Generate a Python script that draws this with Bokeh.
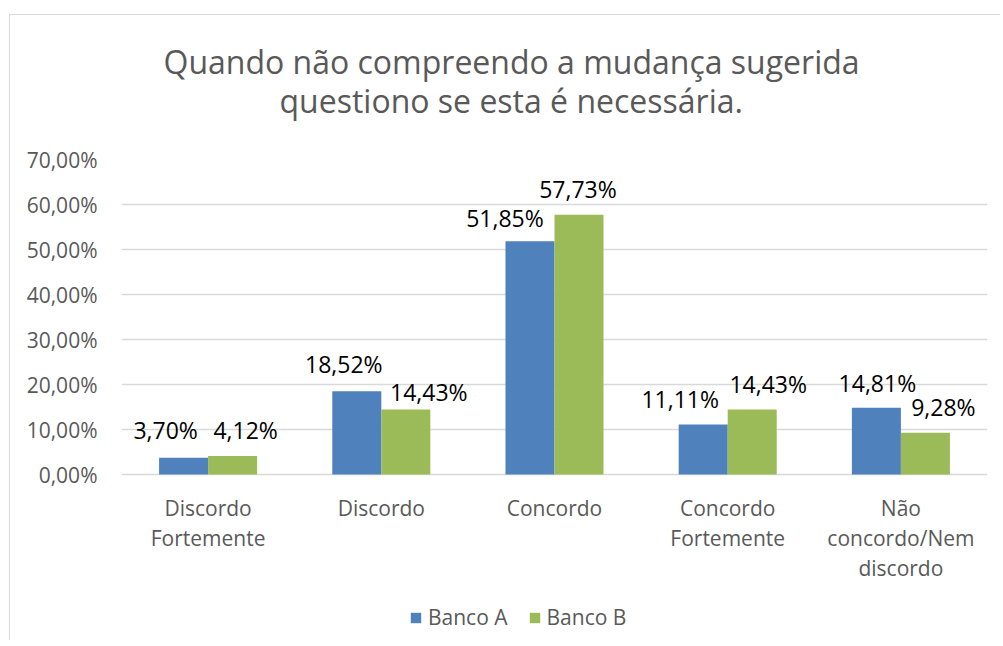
from bokeh.plotting import figure
from bokeh.models import (FactorRange, Range1d, FixedTicker, LabelSet, ColumnDataSource,
                          Title, Legend, LegendItem)
from bokeh.transform import dodge
from bokeh.core.properties import value
from bokeh.embed import file_html
from bokeh.resources import INLINE

# ---- data ----
title_lines = ["Quando não compreendo a mudança sugerida", "questiono se esta é necessária."]
categories = ["Discordo\nFortemente", "Discordo", "Concordo", "Concordo\nFortemente",
              "Não\nconcordo/Nem\ndiscordo"]
series_names = ["Banco A", "Banco B"]
banco_a = [3.70, 18.52, 51.85, 11.11, 14.81]
banco_b = [4.12, 14.43, 57.73, 14.43, 9.28]
y_ticks = [0, 10, 20, 30, 40, 50, 60, 70]
y_tick_labels = ["0,00%", "10,00%", "20,00%", "30,00%", "40,00%", "50,00%", "60,00%", "70,00%"]

# ---- label placement (style, pixels) ----
label_dx_a = [-18, -13, -25, -23, 1]
label_dx_b = [13, 23, -1, 16, 18]
label_dy_a = [28, 27, 23, 26, 25]
label_dy_b = [26, 18, 26, 26, 26]

BLUE = "#4F81BD"
GREEN = "#9BBB59"
GRAY_TXT = "#595959"
GRID = "#d9d9d9"
FONT = "Open Sans"

# geometry (pixels): plot area 0..70 spans 315 px; extra room below for category labels + legend
PX_PLOT = 315
PX_BELOW = 166
Y_MAX = 70
Y_MIN = -PX_BELOW * Y_MAX / PX_PLOT

def fmt(v):
    return f"{v:.2f}%".replace(".", ",")

cat_lines = [c.split("\n") for c in categories]
n_lines = max(len(l) for l in cat_lines)

data = dict(
    cat=categories, a=banco_a, b=banco_b, zero=[0] * len(categories),
    a_txt=[fmt(v) for v in banco_a], b_txt=[fmt(v) for v in banco_b],
    dxa=label_dx_a, dxb=label_dx_b, dya=label_dy_a, dyb=label_dy_b,
)
for k in range(n_lines):
    data[f"line{k}"] = [l[k] if k < len(l) else "" for l in cat_lines]
src = ColumnDataSource(data)

p = figure(x_range=FactorRange(*categories, range_padding=0), y_range=Range1d(Y_MIN, Y_MAX),
           frame_width=866, frame_height=PX_PLOT + PX_BELOW, output_backend="svg",
           toolbar_location=None,
           min_border_left=111, min_border_right=13, min_border_top=144, min_border_bottom=0)
p.margin = (14, 0, 0, 9)
p.styles = {"border-left": "1px solid #d9d9d9", "border-top": "1px solid #d9d9d9"}
p.outline_line_color = None
p.background_fill_color = "white"
p.border_fill_color = "white"

half = 0.1415
bw = 0.283
ra = p.vbar(x=dodge("cat", -half, range=p.x_range), top="a", bottom=0, width=bw, source=src,
            fill_color=BLUE, line_color=None)
rb = p.vbar(x=dodge("cat", half, range=p.x_range), top="b", bottom=0, width=bw, source=src,
            fill_color=GREEN, line_color=None)

for col, txt, dx, dy, off in (("a", "a_txt", "dxa", "dya", -half), ("b", "b_txt", "dxb", "dyb", half)):
    ls = LabelSet(x=dodge("cat", off, range=p.x_range), y=col, text=txt, x_offset=dx, y_offset=dy,
                  source=src, text_align="center", text_baseline="middle",
                  text_font=value(FONT), text_font_size="23px", text_color="black")
    p.add_layout(ls)

# category labels under the zero line, one centred line at a time
for k in range(n_lines):
    p.add_layout(LabelSet(x="cat", y="zero", text=f"line{k}", y_offset=-19 - 30 * k, source=src,
                          text_align="center", text_baseline="top",
                          text_font=value(FONT), text_font_size="21px", text_color=GRAY_TXT))

# axes
p.xaxis.visible = False
p.yaxis.ticker = FixedTicker(ticks=y_ticks)
p.yaxis.major_label_overrides = {t: l for t, l in zip(y_ticks, y_tick_labels)}
p.yaxis.axis_line_color = None
p.yaxis.major_tick_line_color = None
p.yaxis.minor_tick_line_color = None
p.yaxis.major_label_standoff = 18
p.yaxis.major_label_text_font = FONT
p.yaxis.major_label_text_font_size = "21px"
p.yaxis.major_label_text_color = GRAY_TXT

p.xgrid.grid_line_color = None
p.ygrid.grid_line_color = GRID
p.ygrid.grid_line_width = 1.5

# title: two lines, nearest-to-plot added first
for txt, off, standoff in ((title_lines[1], 158, 75), (title_lines[0], 42, -87)):
    p.add_layout(Title(text=txt, align="left", offset=off, standoff=standoff,
                       text_font=FONT, text_font_size="32px", text_font_style="normal",
                       text_color=GRAY_TXT), "above")

legend = Legend(items=[LegendItem(label=series_names[0], renderers=[ra]),
                       LegendItem(label=series_names[1], renderers=[rb])],
                orientation="horizontal", location=(288, 9),
                glyph_width=13, glyph_height=13, label_standoff=6, spacing=20,
                padding=0, margin=0, border_line_color=None, background_fill_alpha=0,
                label_text_font=FONT, label_text_font_size="21px", label_text_color=GRAY_TXT)
p.add_layout(legend, "center")

open("out.html", "w").write(file_html(p, INLINE))
